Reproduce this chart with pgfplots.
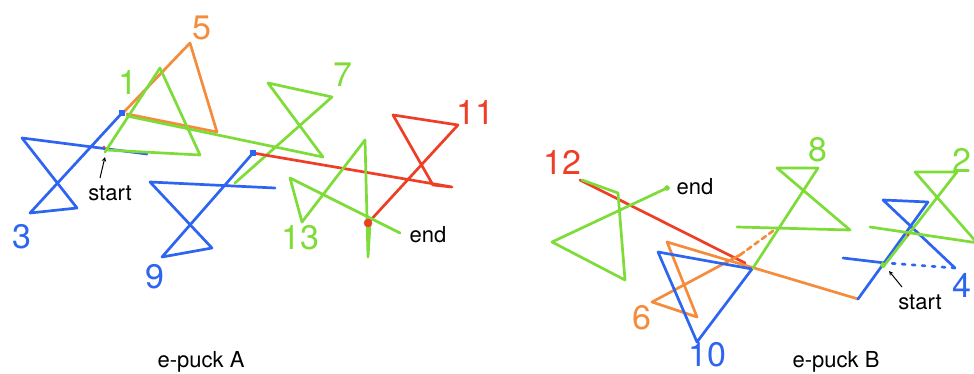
\documentclass[border=0pt]{standalone}
\usepackage{fontspec}
\setmainfont{TeX Gyre Heros}
\usepackage{pgfplots}
\pgfplotsset{compat=1.18}

\definecolor{pblue}{RGB}{45,100,240}
\definecolor{porange}{RGB}{245,140,60}
\definecolor{pgreen}{RGB}{125,220,55}
\definecolor{pred}{RGB}{238,62,38}

\pgfplotsset{
  trk/.style={line width=2.7pt, line join=round, line cap=round},
}

\begin{document}
\begin{tikzpicture}
\begin{axis}[
    width=974pt, height=374pt, scale only axis,
    xmin=0, xmax=974, ymin=0, ymax=374,
    y dir=reverse,
    axis lines=none,
    clip=true,
]
% ---------- e-puck A ----------
% 3
\addplot[trk, pblue] coordinates {(147,154) (22,138) (77,208) (30,213) (122,113)};
% 5
\addplot[trk, porange] coordinates {(123,113) (190,43) (217,132) (127,114)};
% link to 7
\addplot[trk, pgreen] coordinates {(127,116) (323,157)};
% 1
\addplot[trk, pgreen] coordinates {(105,152) (160,68) (200,155) (106,150)};
% 7
\addplot[trk, pgreen] coordinates {(323,157) (268,83) (332,97) (235,183)};
% 9
\addplot[trk, pblue] coordinates {(275,188) (150,182) (212,248) (162,257) (253,153)};
% 11
\addplot[trk, pred] coordinates {(253,153) (452,187) (433,185) (393,115) (458,125) (368,223)};
% 13
\addplot[trk, pgreen] coordinates {(400,233) (290,178) (302,222) (365,140) (368,257) (370,225)};

\addplot[only marks, mark=square*, mark size=2.5pt, pblue] coordinates {(122,113) (253,153)};
\addplot[only marks, mark=*, mark size=4pt, pred] coordinates {(368,223)};
\addplot[only marks, mark=*, mark size=1.2pt, pred] coordinates {(104,147)};

% ---------- e-puck B ----------
% 12
\addplot[trk, pred] coordinates {(580,180) (745,263)};
% end path
\addplot[trk, pgreen] coordinates {(582,180) (618,193) (625,280) (552,242) (667,188)};
\addplot[only marks, mark=*, mark size=2.5pt, pgreen] coordinates {(667,188)};
% 6
\addplot[trk, porange] coordinates {(858,299) (667,242) (697,317) (652,302) (740,255)};
\addplot[trk, porange, dash pattern=on 5pt off 4pt] coordinates {(740,255) (777,228)};
% 10
\addplot[trk, pblue] coordinates {(658,252) (752,269) (697,342) (658,252)};
% 8
\addplot[trk, pgreen] coordinates {(737,227) (850,230) (777,168) (818,168) (753,268)};
% 4
\addplot[trk, pblue] coordinates {(858,299) (928,202) (883,200) (955,268)};
\addplot[trk, pblue, dash pattern=on 3pt off 7pt] coordinates {(955,268) (887,263)};
\addplot[trk, pblue] coordinates {(885,263) (843,258)};
% 2
\addplot[trk, pgreen] coordinates {(883,267) (957,172) (915,172) (985,252)};
\addplot[trk, pgreen] coordinates {(870,227) (985,244)};
\addplot[only marks, mark=*, mark size=2.5pt, pgreen] coordinates {(883,265)};
\addplot[only marks, mark=*, mark size=1.2pt, pred] coordinates {(908,235)};

% ---------- labels ----------
\begin{scope}[every node/.style={font=\fontsize{34}{36}\selectfont, inner sep=0pt}]
\node[porange] at (axis cs:202,28) {5};
\node[pgreen]  at (axis cs:128,82) {1};
\node[pblue]   at (axis cs:22,237) {3};
\node[pgreen]  at (axis cs:343,75) {7};
\node[pred]    at (axis cs:475,112) {11};
\node[pgreen]  at (axis cs:300,238) {13};
\node[pblue]   at (axis cs:155,277) {9};
\node[pred]    at (axis cs:562,162) {12};
\node[pgreen]  at (axis cs:818,150) {8};
\node[pgreen]  at (axis cs:962,160) {2};
\node[porange] at (axis cs:642,318) {6};
\node[pblue]   at (axis cs:707,355) {10};
\node[pblue]   at (axis cs:962,285) {4};
\end{scope}
\begin{scope}[every node/.style={font=\fontsize{22}{24}\selectfont, inner sep=0pt}]
\node at (axis cs:110,193) {start};
\node at (axis cs:428,235) {end};
\node at (axis cs:695,187) {end};
\node at (axis cs:920,302) {start};
\node at (axis cs:201,362) {e-puck A};
\node at (axis cs:836,362) {e-puck B};
\end{scope}
\draw[-stealth, line width=1pt] (axis cs:100,178) -- (axis cs:105,157);
\draw[-stealth, line width=1pt] (axis cs:902,287) -- (axis cs:889,271);
\end{axis}
\pgfresetboundingbox
\useasboundingbox (current axis.south west) rectangle (current axis.north east);
\end{tikzpicture}
\end{document}
